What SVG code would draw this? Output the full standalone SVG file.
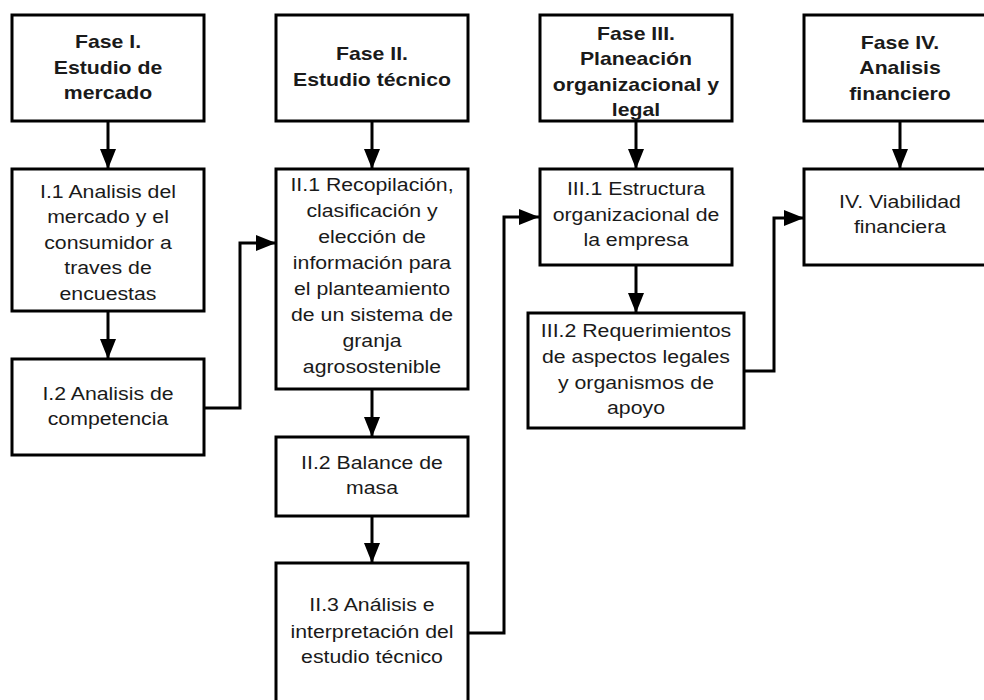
<svg xmlns="http://www.w3.org/2000/svg" width="984" height="700" viewBox="0 0 984 700">
<defs>
<marker id="arr" markerUnits="userSpaceOnUse" markerWidth="20" markerHeight="16" refX="20" refY="8" orient="auto">
<path d="M0,0 L20,8 L0,16 z" fill="#000"/>
</marker>
<style>
.box{fill:#fff;stroke:#000;stroke-width:3}
.h{font-family:"Liberation Sans",Arial,sans-serif;font-weight:bold;font-size:18px;fill:#1a1a1a;text-anchor:middle}
.t{font-family:"Liberation Sans",Arial,sans-serif;font-size:18.5px;fill:#1a1a1a;text-anchor:middle}
.c{fill:none;stroke:#000;stroke-width:3;marker-end:url(#arr)}
</style>
</defs>
<rect width="984" height="700" fill="#fff"/>
<g id="connectors">
<path class="c" d="M108,121 V169"/>
<path class="c" d="M108,311 V359"/>
<path class="c" d="M204,408 H240 V243 H276"/>
<path class="c" d="M372,121 V169"/>
<path class="c" d="M372,389 V437"/>
<path class="c" d="M372,516 V563"/>
<path class="c" d="M468,633 H504 V217 H539"/>
<path class="c" d="M636,121 V169"/>
<path class="c" d="M636,265 V313"/>
<path class="c" d="M744,371 H774 V218 H804"/>
<path class="c" d="M900,121 V169"/>
</g>
<g id="fase1">
<rect class="box" x="12" y="15" width="192" height="106"/>
<text class="h" transform="translate(108 0) scale(1.18 1)"><tspan x="0" y="48.5">Fase I.</tspan><tspan x="0" y="74">Estudio de</tspan><tspan x="0" y="99.5">mercado</tspan></text>
</g>
<g id="fase2">
<rect class="box" x="276" y="15" width="192" height="106"/>
<text class="h" transform="translate(372 0) scale(1.18 1)"><tspan x="0" y="60">Fase II.</tspan><tspan x="0" y="86">Estudio técnico</tspan></text>
</g>
<g id="fase3">
<rect class="box" x="540" y="15" width="192" height="106"/>
<text class="h" transform="translate(636 0) scale(1.18 1)"><tspan x="0" y="40">Fase III.</tspan><tspan x="0" y="65.5">Planeación</tspan><tspan x="0" y="91">organizacional y</tspan><tspan x="0" y="116.5">legal</tspan></text>
</g>
<g id="fase4">
<rect class="box" x="804" y="15" width="192" height="106"/>
<text class="h" transform="translate(900 0) scale(1.18 1)"><tspan x="0" y="49">Fase IV.</tspan><tspan x="0" y="74.5">Analisis</tspan><tspan x="0" y="100">financiero</tspan></text>
</g>
<g id="i1">
<rect class="box" x="12" y="169" width="192" height="142"/>
<text class="t" transform="translate(108 0) scale(1.15 1)"><tspan x="0" y="198">I.1 Analisis del</tspan><tspan x="0" y="223.5">mercado y el</tspan><tspan x="0" y="249">consumidor a</tspan><tspan x="0" y="274.5">traves de</tspan><tspan x="0" y="300">encuestas</tspan></text>
</g>
<g id="i2">
<rect class="box" x="12" y="359" width="192" height="96"/>
<text class="t" transform="translate(108 0) scale(1.15 1)"><tspan x="0" y="400">I.2 Analisis de</tspan><tspan x="0" y="425">competencia</tspan></text>
</g>
<g id="ii1">
<rect class="box" x="276" y="169" width="192" height="220"/>
<text class="t" transform="translate(372 0) scale(1.15 1)"><tspan x="0" y="191.5">II.1 Recopilación,</tspan><tspan x="0" y="217.5">clasificación y</tspan><tspan x="0" y="243.5">elección de</tspan><tspan x="0" y="269.5">información para</tspan><tspan x="0" y="295.5">el planteamiento</tspan><tspan x="0" y="321.5">de un sistema de</tspan><tspan x="0" y="347.5">granja</tspan><tspan x="0" y="373.5">agrosostenible</tspan></text>
</g>
<g id="ii2">
<rect class="box" x="276" y="437" width="192" height="79"/>
<text class="t" transform="translate(372 0) scale(1.15 1)"><tspan x="0" y="469.5">II.2 Balance de</tspan><tspan x="0" y="494.5">masa</tspan></text>
</g>
<g id="ii3">
<rect class="box" x="276" y="563" width="192" height="145"/>
<text class="t" transform="translate(372 0) scale(1.15 1)"><tspan x="0" y="611.5">II.3 Análisis e</tspan><tspan x="0" y="638">interpretación del</tspan><tspan x="0" y="663.5">estudio técnico</tspan></text>
</g>
<g id="iii1">
<rect class="box" x="540" y="169" width="192" height="96"/>
<text class="t" transform="translate(636 0) scale(1.15 1)"><tspan x="0" y="195">III.1 Estructura</tspan><tspan x="0" y="221">organizacional de</tspan><tspan x="0" y="246.5">la empresa</tspan></text>
</g>
<g id="iii2">
<rect class="box" x="528" y="313" width="216" height="115"/>
<text class="t" transform="translate(636 0) scale(1.15 1)"><tspan x="0" y="337">III.2 Requerimientos</tspan><tspan x="0" y="363">de aspectos legales</tspan><tspan x="0" y="389">y organismos de</tspan><tspan x="0" y="414">apoyo</tspan></text>
</g>
<g id="iv">
<rect class="box" x="804" y="169" width="192" height="96"/>
<text class="t" transform="translate(900 0) scale(1.15 1)"><tspan x="0" y="208">IV. Viabilidad</tspan><tspan x="0" y="233">financiera</tspan></text>
</g>
</svg>
